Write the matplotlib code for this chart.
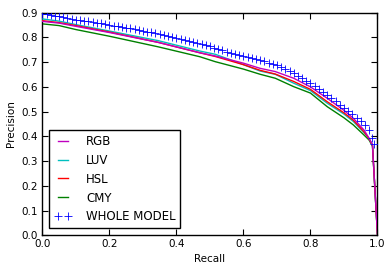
import matplotlib
matplotlib.use("Agg")
import matplotlib.pyplot as plt

# WHOLE MODEL (blue + markers)
whole_recall = [0.0, 0.0125, 0.025, 0.0375, 0.05, 0.0625, 0.075, 0.0875, 0.1, 0.1125,
                0.125, 0.1375, 0.15, 0.1625, 0.175, 0.1875, 0.2, 0.2125, 0.225, 0.2375,
                0.25, 0.2625, 0.275, 0.2875, 0.3, 0.3125, 0.325, 0.3375, 0.35, 0.3625,
                0.375, 0.3875, 0.4, 0.4125, 0.425, 0.4375, 0.45, 0.4625, 0.475, 0.4875,
                0.5, 0.5125, 0.525, 0.5375, 0.55, 0.5625, 0.575, 0.5875, 0.6, 0.6125,
                0.625, 0.6375, 0.65, 0.6625, 0.675, 0.6875, 0.7, 0.7125, 0.725, 0.7375,
                0.75, 0.7625, 0.775, 0.7875, 0.8, 0.8125, 0.825, 0.8375, 0.85, 0.8625,
                0.875, 0.8875, 0.9, 0.9125, 0.925, 0.9375, 0.95, 0.9625, 0.975, 0.985, 0.99]
whole_precision = [0.895, 0.893, 0.890, 0.888, 0.885, 0.882, 0.878, 0.875, 0.872, 0.870,
                   0.867, 0.865, 0.862, 0.860, 0.857, 0.854, 0.851, 0.848, 0.846, 0.843,
                   0.840, 0.837, 0.834, 0.831, 0.828, 0.824, 0.821, 0.817, 0.813, 0.809,
                   0.805, 0.801, 0.797, 0.793, 0.789, 0.786, 0.782, 0.778, 0.774, 0.769,
                   0.764, 0.758, 0.753, 0.748, 0.743, 0.739, 0.734, 0.729, 0.725, 0.721,
                   0.717, 0.713, 0.709, 0.703, 0.697, 0.692, 0.687, 0.679, 0.671, 0.663,
                   0.655, 0.645, 0.635, 0.625, 0.615, 0.604, 0.592, 0.580, 0.567, 0.555,
                   0.541, 0.528, 0.515, 0.503, 0.489, 0.475, 0.461, 0.446, 0.425, 0.392, 0.370]

curve_recall = [0.0, 0.05, 0.1, 0.2, 0.346, 0.47, 0.516, 0.6, 0.65, 0.695, 0.75, 0.8,
                0.85, 0.9, 0.928, 0.96, 0.975, 0.985, 1.0]
rgb_precision = [0.865, 0.858, 0.845, 0.820, 0.780, 0.738, 0.725, 0.696, 0.675, 0.662, 0.635,
                 0.600, 0.554, 0.505, 0.473, 0.425, 0.392, 0.365, 0.0]
luv_precision = [0.875, 0.866, 0.852, 0.826, 0.787, 0.745, 0.732, 0.690, 0.664, 0.651, 0.615,
                 0.585, 0.534, 0.490, 0.460, 0.415, 0.390, 0.365, 0.0]
hsl_precision = [0.868, 0.860, 0.848, 0.822, 0.780, 0.738, 0.723, 0.690, 0.667, 0.652, 0.622,
                 0.590, 0.540, 0.495, 0.465, 0.418, 0.390, 0.365, 0.0]
cmy_precision = [0.855, 0.848, 0.832, 0.805, 0.762, 0.722, 0.702, 0.672, 0.651, 0.635, 0.601,
                 0.575, 0.520, 0.475, 0.446, 0.405, 0.385, 0.360, 0.0]

fig = plt.figure(figsize=(3.92, 2.71), dpi=100)
ax = fig.add_axes([0.108, 0.132, 0.855, 0.821])

ax.plot(curve_recall, rgb_precision, color='m', lw=1, label='RGB', zorder=5)
ax.plot(curve_recall, luv_precision, color='c', lw=1, label='LUV', zorder=3)
ax.plot(curve_recall, hsl_precision, color='r', lw=1, label='HSL', zorder=4)
ax.plot(curve_recall, cmy_precision, color='g', lw=1, label='CMY', zorder=2)
ax.plot(whole_recall, whole_precision, linestyle='none', marker='+', color='b',
        markersize=5.5, mew=0.6, label='WHOLE MODEL', zorder=6)

ax.set_xlim(0, 1)
ax.set_ylim(0, 0.9)
ax.set_xticks([0.0, 0.2, 0.4, 0.6, 0.8, 1.0])
ax.set_yticks([0.0, 0.1, 0.2, 0.3, 0.4, 0.5, 0.6, 0.7, 0.8, 0.9])
ax.tick_params(direction='in', top=True, right=True, length=4, width=0.8, labelsize=7.5, pad=3)
for s in ax.spines.values():
    s.set_linewidth(1)
ax.set_xlabel('Recall', fontsize=7.5, labelpad=3)
ax.set_ylabel('Precision', fontsize=7.5, labelpad=4)

leg = ax.legend(loc='lower left', fontsize=8.5, handlelength=1.5, numpoints=2,
                fancybox=False, framealpha=1, edgecolor='black', borderaxespad=0.6,
                labelspacing=0.5, handletextpad=1.2)
leg.get_frame().set_linewidth(1)

fig.savefig('out.png', dpi=100)
